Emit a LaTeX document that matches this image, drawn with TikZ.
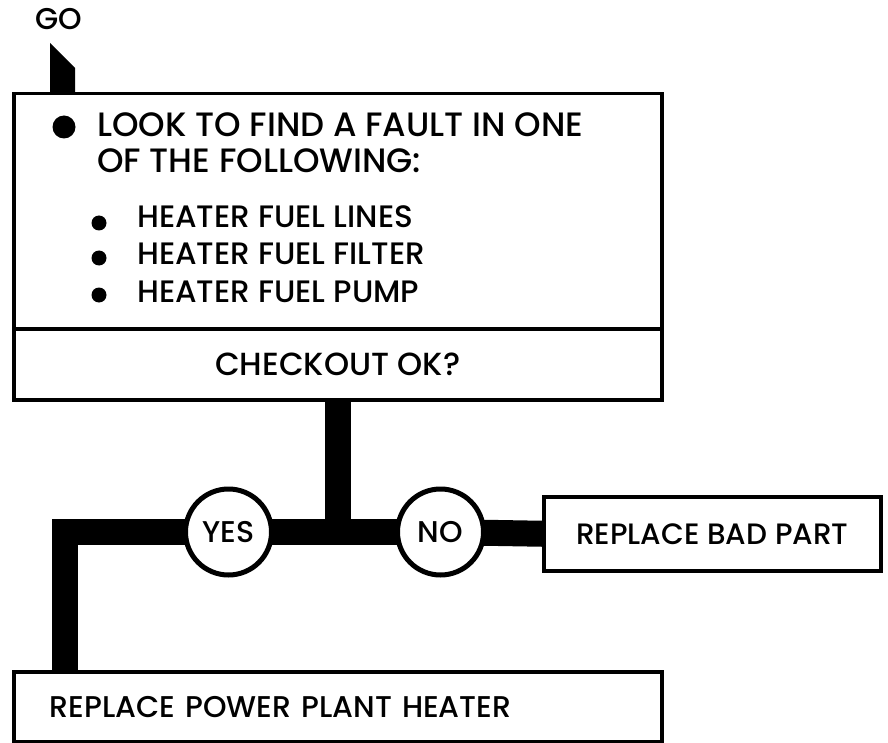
\documentclass[tikz,border=0pt]{standalone}
\usepackage{fontspec}
\setmainfont{Poppins}[UprightFont={* Medium}]
\usetikzlibrary{backgrounds}
\begin{document}
\begin{tikzpicture}[x=1pt,y=-1pt,
  box/.style={draw, line width=3.5pt, rectangle, inner sep=0pt},
  wire/.style={line width=26pt, line join=miter},
  ans/.style={circle, draw, line width=5pt, fill=white, minimum size=86pt, inner sep=0pt, font=\fontsize{30}{34}\selectfont},
  txt/.style={anchor=base west, inner sep=0pt},
  big/.style={font=\fontsize{33.8}{38}\selectfont},
  mid/.style={font=\fontsize{31}{36}\selectfont}]
\useasboundingbox (0,0) rectangle (888,743);

% GO
\node[txt, font=\fontsize{30}{34}\selectfont] (go) at (35,30) {GO};
\coordinate (goflag) at (50,92);
\fill (goflag) -- (50,43) -- (75,68) -- (75,92) -- cycle;

% main box
\node[box, anchor=north west, minimum width=648pt, minimum height=235pt] (look) at (12,92) {};
\node[box, font=\fontsize{32}{36}\selectfont, anchor=north west, minimum width=648pt, minimum height=71pt] (check) at (12,327) {CHECKOUT OK?};

\fill (64,127) circle (11.5pt);
\node[txt, big] (l1) at (97,137) {LOOK TO FIND A FAULT IN ONE};
\node[txt, big] (l2) at (97,173) {OF THE FOLLOWING:};
\fill (99,223) circle (7.5pt);
\fill (99,258) circle (7.5pt);
\fill (99,295) circle (7.5pt);
\node[txt, mid] (b1) at (137,228) {HEATER FUEL LINES};
\node[txt, mid] (b2) at (137,264) {HEATER FUEL FILTER};
\node[txt, mid] (b3) at (137,302) {HEATER FUEL PUMP};

% answers
\node[ans] (yes) at (228.5,532) {YES};
\node[ans] (no) at (440.5,532) {NO};

% result boxes
\node[box, font=\fontsize{29.5}{34}\selectfont, anchor=north west, minimum width=337pt, minimum height=74pt] (bad) at (542,495) {REPLACE BAD PART};
\node[box, font=\fontsize{30}{34}\selectfont, anchor=north west, minimum width=648pt, minimum height=70pt, text width=576pt, align=left, inner xsep=36pt] (power) at (12,670) {REPLACE POWER PLANT HEATER};

\coordinate (j) at (check.south |- yes);
\coordinate (corner) at (64.5,532);

\begin{pgfonlayer}{background}
\draw[wire] (check.south) -- (j);
\draw[wire] (yes.center) -- (no.center);
\draw[wire] (no.center) -- (bad.west);
\draw[wire] (yes.center) -- (corner) -- (corner |- power.north);
\end{pgfonlayer}
\end{tikzpicture}
\end{document}
